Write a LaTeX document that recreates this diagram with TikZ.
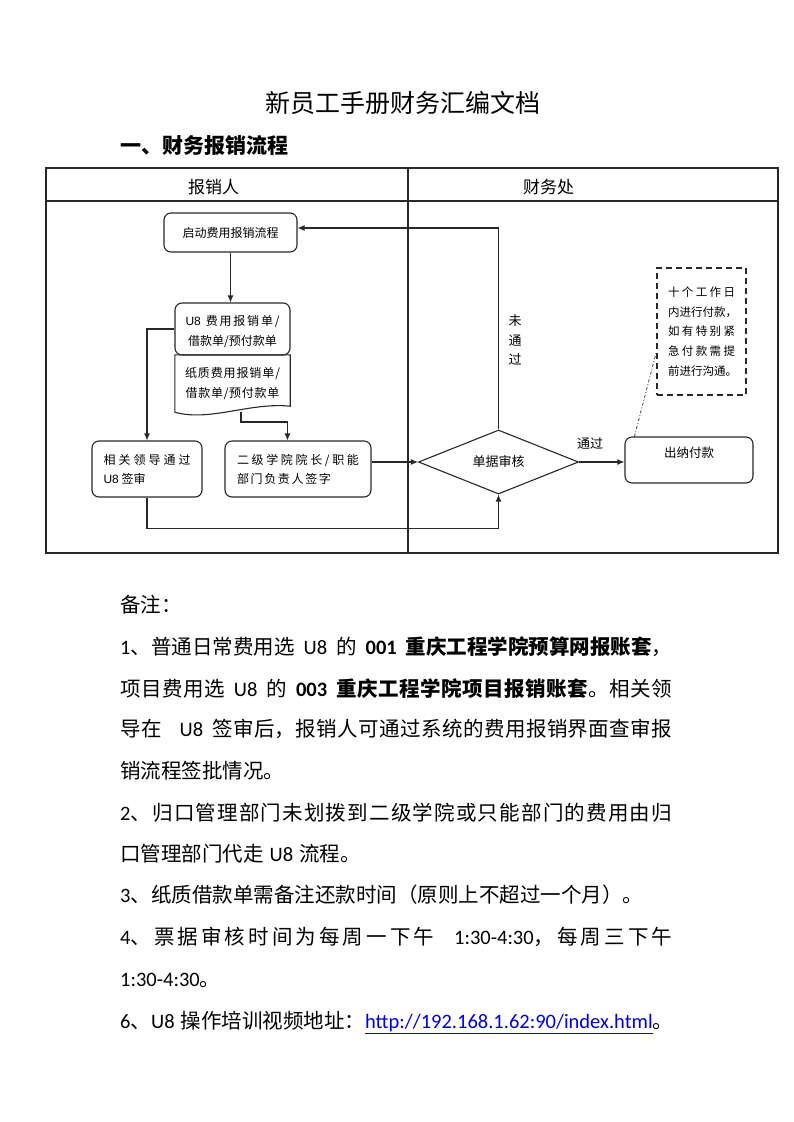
\documentclass[tikz,border=0pt]{standalone}
\usepackage{fontspec}
\usetikzlibrary{arrows.meta,shapes.geometric}
\setmainfont{Noto Sans CJK SC}
\newfontfamily\lat{Carlito}
\newfontfamily\ari{Liberation Sans}
\definecolor{ln}{RGB}{40,40,40}
\definecolor{urlblue}{RGB}{0,0,230}
% own character classes for CJK so that justified lines can stretch between characters
\newcount\cjkcc
\cjkcc="4E00 \loop \XeTeXcharclass\cjkcc=1 \advance\cjkcc by 1 \ifnum\cjkcc<"A000 \repeat
\cjkcc="3000 \loop \XeTeXcharclass\cjkcc=1 \advance\cjkcc by 1 \ifnum\cjkcc<"3040 \repeat
\cjkcc="FF00 \loop \XeTeXcharclass\cjkcc=1 \advance\cjkcc by 1 \ifnum\cjkcc<"FFF0 \repeat
\XeTeXinterchartokenstate=1
\newcommand\cjkglue{\hskip 0pt plus 1fil\relax}
\XeTeXinterchartoks 1 1 = {\cjkglue}
\XeTeXinterchartoks 0 1 = {\cjkglue}
\XeTeXinterchartoks 1 0 = {\cjkglue}
\newcommand\jl[2]{\makebox[#1pt][s]{#2}}
\newcommand\gapx[1]{\hspace*{#1pt}}
\begin{document}
\begin{tikzpicture}[x=1pt,y=-1pt,
  box/.style={draw=ln,line width=1.1pt,rounded corners=7pt,inner sep=0pt,align=center,
    font=\fontsize{12}{19}\selectfont},
  arr/.style={draw=ln,line width=1.1pt,-{Latex[length=7pt,width=6pt]}},
  frame/.style={draw=ln,line width=1.2pt},
  head/.style={font=\fontsize{17}{20}\selectfont,inner sep=0pt},
  lbl/.style={font=\fontsize{13}{19.5}\selectfont,inner sep=0pt,align=center},
  note/.style={anchor=base west,inner sep=0pt,font=\fontsize{20.5}{24}\selectfont}
]
\useasboundingbox[fill=white] (0,0) rectangle (793,1122);

% titles
\node[inner sep=0pt,font=\fontsize{25}{28}\selectfont] (title) at (397,103) {\jl{263}{新员工手册财务汇编文档}};
\node[anchor=west,inner sep=0pt,font=\fontsize{21}{24}\selectfont\bfseries] (sec) at (120,146) {一、财务报销流程};

% swimlane frame
\draw[frame] (46,168) rectangle (778,553);
\draw[frame] (46,201) -- (778,201);
\draw[frame] (408,168) -- (408,553);
\node[head] (h1) at (213.5,187) {报销人};
\node[head] (h2) at (548.5,187) {财务处};

% nodes
\node[box,minimum width=115pt,minimum height=52pt,font=\fontsize{12}{20}\selectfont] (u8) at (232.5,329)
  {\raisebox{-3pt}[\height][\depth]{\jl{94}{{\ari U8}\gapx{5}费用报销单/}}\\\raisebox{-3pt}[\height][\depth]{借款单/预付款单}};
\node[box,minimum width=133pt,minimum height=39pt] (start) at (230.5,232.5) {启动费用报销流程};
\node[minimum width=115pt,minimum height=57pt,inner sep=0pt,align=center,font=\fontsize{12}{20}\selectfont] (paper) at (232.5,383.5)
  {\jl{95}{纸质费用报销单/}\\借款单/预付款单};
\draw[ln,line width=1.1pt] (paper.south west) -- (paper.north west) -- (paper.north east)
  -- ([yshift=6pt]paper.south east) .. controls (250,402) and (210,422) .. (paper.south west);
\coordinate (pb) at (241,412);
\node[box,minimum width=110pt,minimum height=56pt] (leader) at (147,469)
  {\jl{87}{相关领导通过}\\\makebox[87pt][l]{\hbox{{\ari U8} 签审}}};
\node[box,minimum width=146pt,minimum height=56pt] (dept) at (298,469)
  {\jl{122}{二级学院院长/职能}\\\makebox[122pt][l]{\jl{94}{部门负责人签字}}};
\node[draw=ln,line width=1.1pt,diamond,minimum width=160pt,minimum height=56pt,inner sep=0pt,
  font=\fontsize{13}{15}\selectfont] (dia) at (498.5,462) {单据审核};
\node[box,minimum width=128pt,minimum height=46pt,font=\fontsize{12.5}{15}\selectfont] (pay) at (689,460)
  {\raisebox{7pt}[\height][\depth]{出纳付款}};
\node[draw=ln,line width=1.1pt,dash pattern=on 6pt off 4pt,minimum width=89pt,minimum height=127pt,
  inner sep=0pt,align=center,font=\fontsize{11.5}{19.8}\selectfont] (note) at (701.5,331.5)
  {\jl{67}{十个工作日}\\\jl{67}{内进行付款，}\\\jl{67}{如有特别紧}\\\jl{67}{急付款需提}\\\jl{67}{前进行沟通。}};

% connectors
\draw[arr] (start.south) -- (start.south |- u8.north);
\draw[arr] (u8.west) -| (leader.north);
\draw[arr] (pb) -- ++(0,10) -| ([xshift=63pt]dept.north west);
\draw[arr] (dept.east |- dia.west) -- (dia.west);
\draw[arr] (leader.south) -- ++(0,31) -| (dia.south);
\draw[arr] (dia.north) |- ([yshift=4.5pt]start.east);
\draw[arr] (dia.east) -- (dia.east -| pay.west);
\draw[ln,line width=0.7pt,dash pattern=on 3pt off 2pt on 1pt off 2pt] ([xshift=10pt]pay.north west) -- ([yshift=-20pt]note.west);

\node[lbl] (pass) at (590,444) {通过};
\node[lbl] (fail) at (515,340) {未\\通\\过};

% notes
\node[note] (n0) at (120,612.5) {备注：};
\node[note] (n1) at (120,654.5) {\jl{552}{{\lat 1}、普通日常费用选\gapx{9}{\lat U8}\gapx{9}的\gapx{9}{\bfseries{\lat 001}\gapx{9}重庆工程学院预算网报账套}，}};
\node[note] (n2) at (120,696.5) {\jl{552}{项目费用选\gapx{9}{\lat U8}\gapx{9}的\gapx{9}{\bfseries{\lat 003}\gapx{9}重庆工程学院项目报销账套}。相关领}};
\node[note] (n3) at (120,736.5) {\jl{552}{导在\gapx{18}{\lat U8}\gapx{9}签审后，报销人可通过系统的费用报销界面查审报}};
\node[note] (n4) at (120,778.5) {销流程签批情况。};
\node[note] (n5) at (120,820.5) {\jl{552}{{\lat 2}、归口管理部门未划拨到二级学院或只能部门的费用由归}};
\node[note] (n6) at (120,861.5) {口管理部门代走\gapx{6}{\lat U8}\gapx{6}流程。};
\node[note] (n7) at (120,902.5) {{\lat 3}、纸质借款单需备注还款时间（原则上不超过一个月）。};
\node[note] (n8) at (120,944.5) {\jl{552}{{\lat 4}、票据审核时间为每周一下午\gapx{20}{\lat 1:30-4:30}，每周三下午}};
\node[note] (n9) at (120,986.5) {{\lat 1:30-4:30}。};
\node[note] (n10) at (120,1028.5) {{\lat 6}、{\lat U8}\gapx{6}操作培训视频地址：{\lat\color{urlblue}\underline{http://192.168.1.62:90/index.html}}。};
\end{tikzpicture}
\end{document}
